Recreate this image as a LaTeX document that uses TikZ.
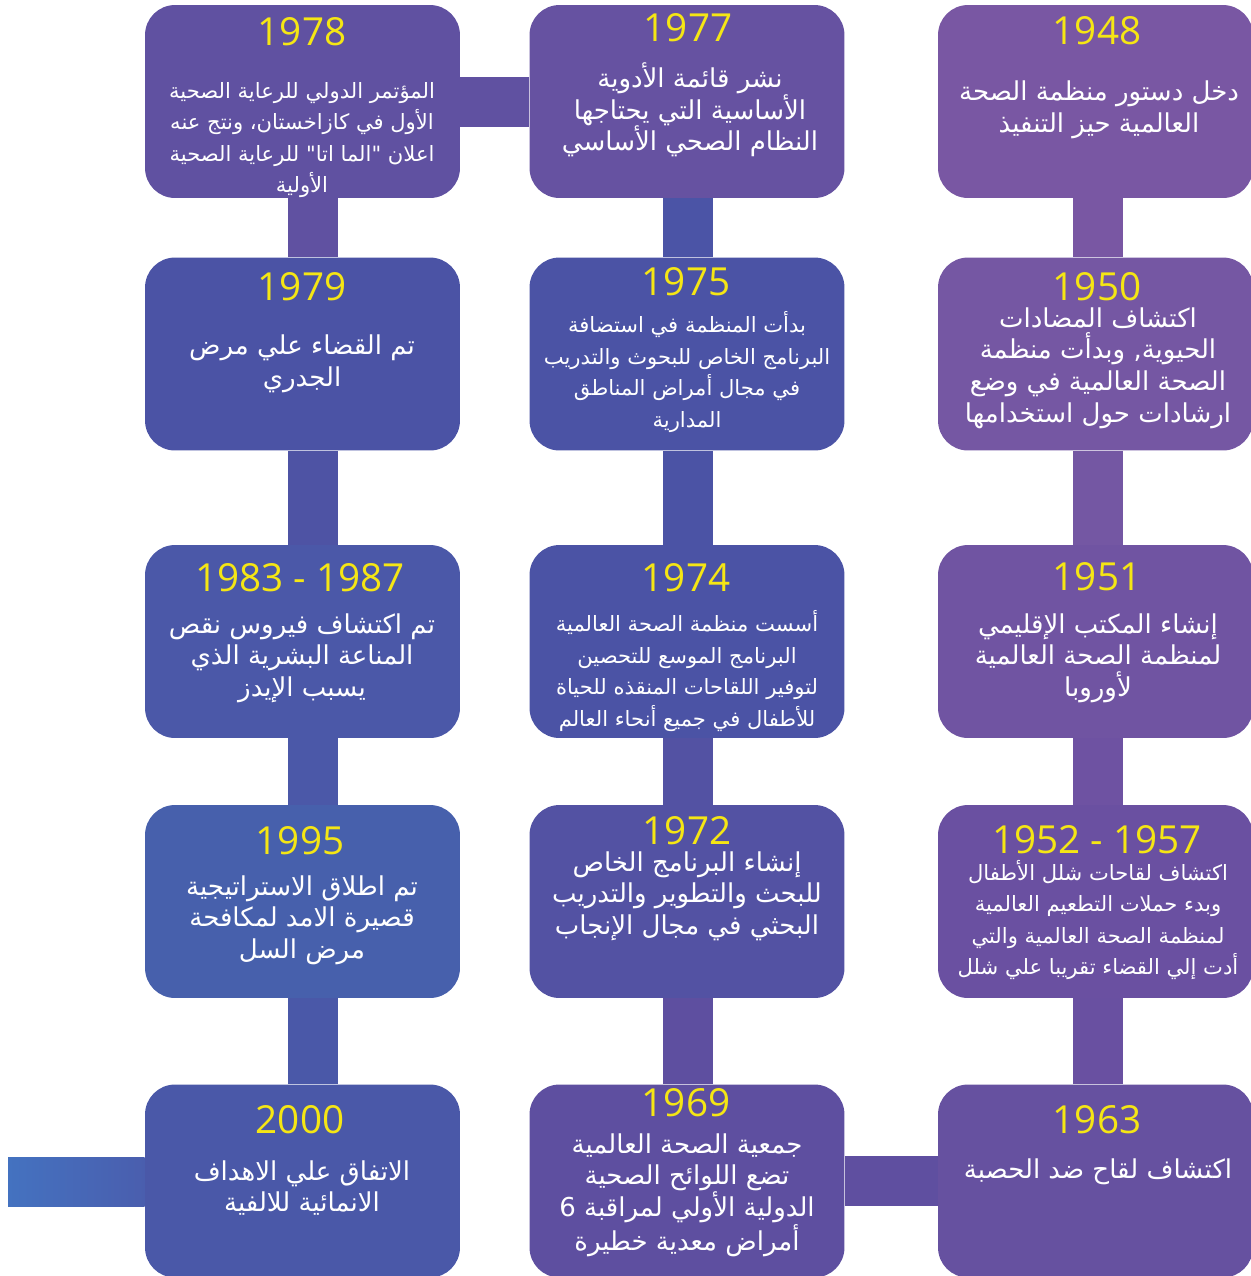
\documentclass[tikz,border=0pt]{standalone}
\usepackage{fontspec}
\usetikzlibrary{backgrounds, calc}

\TeXXeTstate=1
\newfontfamily\arabicfont[Script=Arabic]{DejaVu Sans}
\newfontfamily\yearfont{Open Sans}
\newcommand{\arline}[1]{\beginR #1\endR}

% box colours
\definecolor{yearyellow}{HTML}{F5E614}
\definecolor{cA}{HTML}{6051A1}
\definecolor{cB}{HTML}{6652A1}
\definecolor{cC}{HTML}{7957A3}
\definecolor{cD}{HTML}{4B53A5}
\definecolor{cE}{HTML}{7557A3}
\definecolor{cF}{HTML}{4B58A8}
\definecolor{cG}{HTML}{7054A2}
\definecolor{cH}{HTML}{4760AC}
\definecolor{cI}{HTML}{5352A3}
\definecolor{cJ}{HTML}{6A50A1}
\definecolor{cK}{HTML}{4A58A8}
\definecolor{cL}{HTML}{5E4FA0}
\definecolor{cM}{HTML}{6651A0}
% connector colours
\definecolor{tailleft}{HTML}{4472C0}
\definecolor{tailright}{HTML}{4A5EAE}

\begin{document}
\begin{tikzpicture}[
            x = 0.02cm, y = -0.02cm, % one unit = one pixel, y downwards
            box/.style = {rounded corners = 0.6cm, minimum width = 6.3cm,
                minimum height = 3.86cm, inner sep = 0pt},
            year/.style = {text = yearyellow, font = \yearfont\fontsize{22}{24}\selectfont},
            body/.style = {text = white, align = center,
                font = \arabicfont\fontsize{14.8}{18}\selectfont},
            bodysmall/.style = {body, font = \arabicfont\fontsize{12}{18}\selectfont},
            bar/.style = {line width = 1cm} % connector thickness
        ]

        \useasboundingbox (0,0) rectangle (1251,1276);

        % column axes of the connectors
        \coordinate (barL) at (313,0);
        \coordinate (barM) at (688,0);
        \coordinate (barR) at (1098,0);
        \coordinate (tail) at (8,1182);

        % row 1
        \node[box, fill=cA] (y1978) at (302.5,101.5) {};
        \node[box, fill=cB] (y1977) at (687,101.5) {};
        \node[box, fill=cC] (y1948) at (1095.5,101.5) {};
        % row 2
        \node[box, fill=cD] (y1979) at (302.5,354) {};
        \node[box, fill=cD] (y1975) at (687,354) {};
        \node[box, fill=cE] (y1950) at (1095.5,354) {};
        % row 3
        \node[box, fill=cF] (y1983) at (302.5,641.5) {};
        \node[box, fill=cD] (y1974) at (687,641.5) {};
        \node[box, fill=cG] (y1951) at (1095.5,641.5) {};
        % row 4
        \node[box, fill=cH] (y1995) at (302.5,901.5) {};
        \node[box, fill=cI] (y1972) at (687,901.5) {};
        \node[box, fill=cJ] (y1952) at (1095.5,901.5) {};
        % row 5
        \node[box, fill=cK] (y2000) at (302.5,1181) {};
        \node[box, fill=cL] (y1969) at (687,1181) {};
        \node[box, fill=cM] (y1963) at (1095.5,1181) {};

        % years
        \node[year] (t1978) at (302,32) {1978};
        \node[year] (t1977) at (688,28) {1977};
        \node[year] (t1948) at (1097,31) {1948};
        \node[year] (t1979) at (302,287) {1979};
        \node[year] (t1975) at (686,282) {1975};
        \node[year] (t1950) at (1097,287) {1950};
        \node[year] (t1983) at (300,578) {1983 - 1987};
        \node[year] (t1974) at (686,578) {1974};
        \node[year] (t1951) at (1097,577) {1951};
        \node[year] (t1995) at (300,841) {1995};
        \node[year] (t1972) at (687,831) {1972};
        \node[year] (t1952) at (1097,840) {1952 - 1957};
        \node[year] (t2000) at (300,1120) {2000};
        \node[year] (t1969) at (686,1103) {1969};
        \node[year] (t1963) at (1097,1120) {1963};

        % descriptions
        \node[bodysmall] (d1978) at (302,140) {\arline{المؤتمر الدولي للرعاية الصحية}\\
            \arline{الأول في كازاخستان، ونتج عنه}\\
            \arline{اعلان "الما اتا" للرعاية الصحية}\\
            \arline{الأولية}};
        \node[body] (d1977) at (690,110) {\arline{نشر قائمة الأدوية}\\
            \arline{الأساسية التي يحتاجها}\\
            \arline{النظام الصحي الأساسي}};
        \node[body] (d1948) at (1099,110) {\arline{دخل دستور منظمة الصحة}\\
            \arline{العالمية حيز التنفيذ}};
        \node[body] (d1979) at (302,364) {\arline{تم القضاء علي مرض}\\
            \arline{الجدري}};
        \node[bodysmall] (d1975) at (687,372) {\arline{بدأت المنظمة في استضافة}\\
            \arline{البرنامج الخاص للبحوث والتدريب}\\
            \arline{في مجال أمراض المناطق}\\
            \arline{المدارية}};
        \node[body] (d1950) at (1098,368) {\arline{اكتشاف المضادات}\\
            \arline{الحيوية, وبدأت منظمة}\\
            \arline{الصحة العالمية في وضع}\\
            \arline{ارشادات حول استخدامها}};
        \node[body] (d1983) at (302,658) {\arline{تم اكتشاف فيروس نقص}\\
            \arline{المناعة البشرية الذي}\\
            \arline{يسبب الإيدز}};
        \node[bodysmall] (d1974) at (687,671) {\arline{أسست منظمة الصحة العالمية}\\
            \arline{البرنامج الموسع للتحصين}\\
            \arline{لتوفير اللقاحات المنقذه للحياة}\\
            \arline{للأطفال في جميع أنحاء العالم}};
        \node[body] (d1951) at (1098,658) {\arline{إنشاء المكتب الإقليمي}\\
            \arline{لمنظمة الصحة العالمية}\\
            \arline{لأوروبا}};
        \node[body] (d1995) at (302,920) {\arline{تم اطلاق الاستراتيجية}\\
            \arline{قصيرة الامد لمكافحة}\\
            \arline{مرض السل}};
        \node[body] (d1972) at (687,896) {\arline{إنشاء البرنامج الخاص}\\
            \arline{للبحث والتطوير والتدريب}\\
            \arline{البحثي في مجال الإنجاب}};
        \node[bodysmall] (d1952) at (1098,920) {\arline{اكتشاف لقاحات شلل الأطفال}\\
            \arline{وبدء حملات التطعيم العالمية}\\
            \arline{لمنظمة الصحة العالمية والتي}\\
            \arline{أدت إلي القضاء تقريبا علي شلل}};
        \node[body] (d2000) at (302,1188) {\arline{الاتفاق علي الاهداف}\\
            \arline{الانمائية للالفية}};
        \node[body] (d1969) at (687,1195) {\arline{جمعية الصحة العالمية}\\
            \arline{تضع اللوائح الصحية}\\
            \arline{الدولية الأولي لمراقبة 6}\\
            \arline{أمراض معدية خطيرة}};
        \node[body] (d1963) at (1098,1172) {\arline{اكتشاف لقاح ضد الحصبة}};

        % connectors behind the boxes
        \begin{scope}[on background layer]
            \draw[bar, draw=cA!95!cB] (y1978) -- (y1977);
            \draw[bar, draw=cL!90!cM] (y1969) -- (y1963);
            \shade[left color=tailleft, right color=tailright]
                ($(tail)+(0,-25)$) rectangle ($(y2000.west)+(0,25)$);

            \draw[bar, draw=cA] (y1978.south -| barL) -- (y1979.north -| barL);
            \draw[bar, draw=cD!85!cA] (y1979.south -| barL) -- (y1983.north -| barL);
            \draw[bar, draw=cF!90!cD] (y1983.south -| barL) -- (y1995.north -| barL);
            \draw[bar, draw=cK] (y1995.south -| barL) -- (y2000.north -| barL);

            \draw[bar, draw=cD!90!cH] (y1977.south -| barM) -- (y1975.north -| barM);
            \draw[bar, draw=cD] (y1975.south -| barM) -- (y1974.north -| barM);
            \draw[bar, draw=cI] (y1974.south -| barM) -- (y1972.north -| barM);
            \draw[bar, draw=cL] (y1972.south -| barM) -- (y1969.north -| barM);

            \draw[bar, draw=cC] (y1948.south -| barR) -- (y1950.north -| barR);
            \draw[bar, draw=cE!85!cG] (y1950.south -| barR) -- (y1951.north -| barR);
            \draw[bar, draw=cG!60!cJ] (y1951.south -| barR) -- (y1952.north -| barR);
            \draw[bar, draw=cJ!70!cM] (y1952.south -| barR) -- (y1963.north -| barR);
        \end{scope}
    \end{tikzpicture}
\end{document}
